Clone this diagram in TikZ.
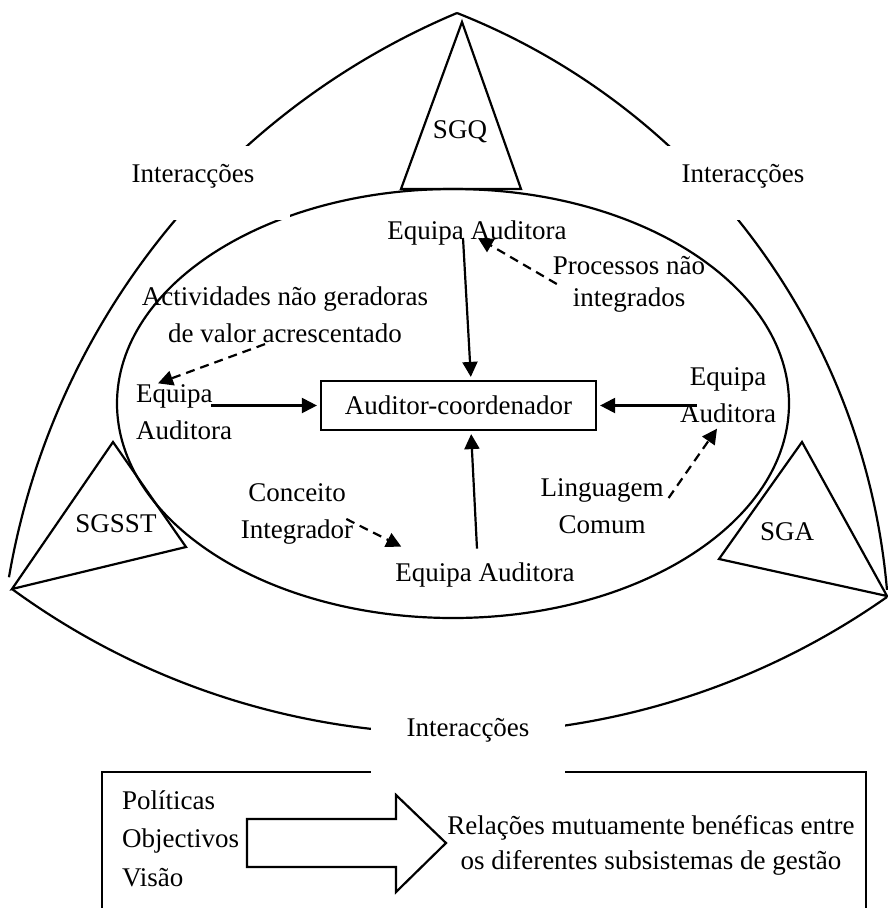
\documentclass[tikz,border=0pt]{standalone}
\usepackage{fontspec}
\setmainfont{Liberation Serif}
\usetikzlibrary{arrows.meta, positioning}

\begin{document}
\begin{tikzpicture}[x=1pt, y=-1pt, line width=2.2pt,
  lbl/.style={font=\fontsize{27}{37}\selectfont, inner sep=0pt, align=center},
  gap/.style={fill=white, inner sep=0pt, anchor=base, minimum width=194pt, text height=36pt, text depth=38pt, font=\fontsize{27}{37}\selectfont},
  arr/.style={-{Triangle[length=15pt, width=15pt]}, shorten >=3pt},
  darr/.style={-{Triangle[length=15pt, width=15pt]}, dash pattern=on 9pt off 6pt}
]
  \useasboundingbox (0,0) rectangle (888,908);

  \draw (457,13) arc[start angle=247.2, end angle=189.7, radius=749];
  \draw (457,13) arc[start angle=-68.44, end angle=-4.95, radius=683.8];
  \draw (12,589) arc[start angle=126.15, end angle=54.9, radius=751.1];
  \draw (453,403.5) ellipse[x radius=336, y radius=214.5];

  \draw (462,22) -- (521,189) -- (401,189) -- cycle;
  \draw (113,442) -- (186,547) -- (12,589) -- cycle;
  \draw (802,442) -- (887,596) -- (719,559) -- cycle;
  \draw (102,772) rectangle (866,915);
  \draw (247,819) -- (396,819) -- (396,795) -- (446,843) -- (396,892) -- (396,867) -- (247,867) -- cycle;

  \node[gap] (intl) at (193,182) {Interacções};
  \node[gap, minimum width=156pt] (intr) at (743,182) {Interacções};
  \node[gap, text depth=37.5pt] (intb) at (468,736) {Interacções};

  \node[lbl] (sgq) at (460,132) {SGQ};
  \node[lbl] (sgsst) at (116,524) {SGSST};
  \node[lbl] (sga) at (787,532) {SGA};

  \node[lbl, draw, minimum width=275pt, minimum height=49pt] (coord) at (458.5,405.5) {Auditor-coordenador};
  \node[lbl] (eqtop) at (477,233) {Equipa Auditora};
  \node[lbl, font=\fontsize{27}{32}\selectfont] (proc) at (629,284) {Processos não\\integrados};
  \node[lbl] (activ) at (285,315) {Actividades não geradoras\\de valor acrescentado};
  \node[lbl, align=left, anchor=west] (eqleft) at (135,412) {Equipa\\Auditora};
  \node[lbl] (eqright) at (728,395) {Equipa\\Auditora};
  \node[lbl] (ling) at (602,506) {Linguagem\\Comum};
  \node[lbl] (conc) at (297,514) {Conceito\\Integrador};
  \node[lbl] (eqbot) at (485,575) {Equipa Auditora};

  \node[lbl, align=left, anchor=west, font=\fontsize{27}{38.5}\selectfont] (goals) at (121,838.5) {Políticas\\Objectivos\\Visão};
  \node[lbl, font=\fontsize{27}{35}\selectfont] (rel) at (651,845) {Relações mutuamente benéficas entre\\os diferentes subsistemas de gestão};

  \draw[arr] ([xshift=-14pt, yshift=-5pt]eqtop.center) -- ([xshift=12.5pt]coord.north);
  \draw[arr] ([xshift=-22pt]coord.west -| eqleft.east) -- (coord.west);
  \draw[arr] ([xshift=18pt]coord.east -| eqright.west) -- (coord.east);
  \draw[arr] ([xshift=-8pt, yshift=13pt]eqbot.north) -- ([xshift=12.5pt]coord.south);

  \draw[darr] ([xshift=5pt]proc.west) -- ([xshift=1pt, yshift=-5pt]eqtop.center);
  \draw[darr] ([xshift=-20pt]activ.south) -- ([xshift=23pt]eqleft.north west);
  \draw[darr] ([xshift=4pt, yshift=8pt]ling.east) -- ([xshift=-11pt, yshift=-5pt]eqright.south);
  \draw[darr] ([xshift=-8pt, yshift=-5pt]conc.east) -- ([xshift=7pt, yshift=15pt]eqbot.north west);
\end{tikzpicture}
\end{document}
